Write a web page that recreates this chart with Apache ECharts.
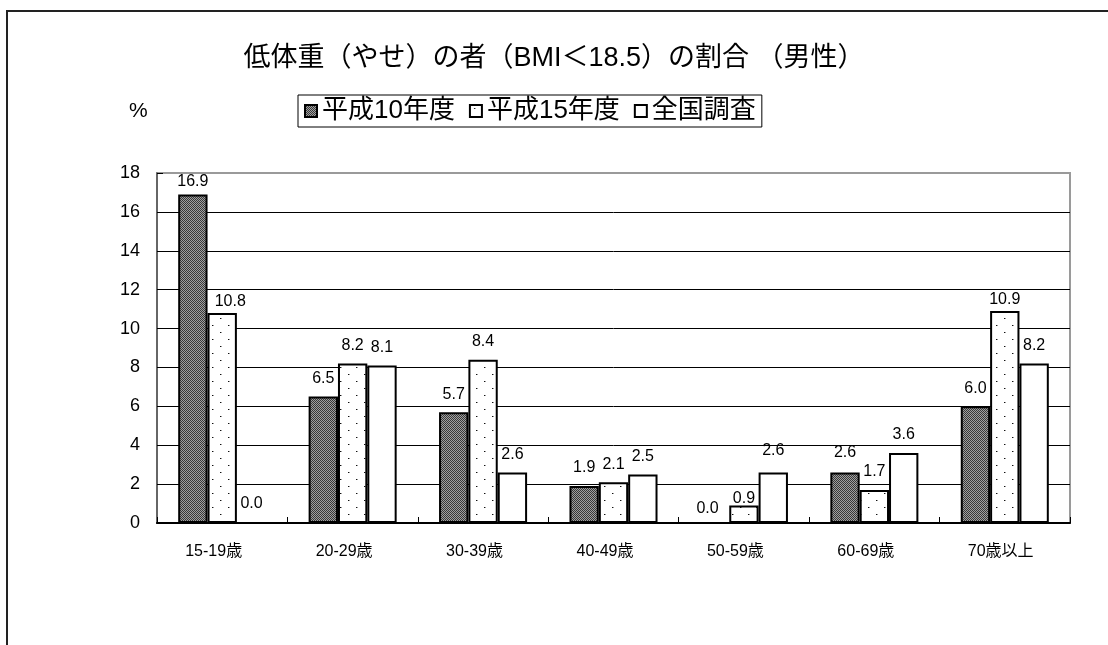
<!DOCTYPE html>
<html>
<head>
<meta charset="utf-8">
<script src="https://cdn.jsdelivr.net/npm/echarts@6/dist/echarts.min.js"></script>
<style>
  html, body { margin: 0; padding: 0; background: #fff; }
  #chart { width: 1108px; height: 645px; }
</style>
</head>
<body>
<div id="chart"></div>
<script>
// ---- data ----
const titleText = '低体重（やせ）の者（BMI＜18.5）の割合 （男性）';
const unitLabel = '%';
const categories = ['15-19歳', '20-29歳', '30-39歳', '40-49歳', '50-59歳', '60-69歳', '70歳以上'];
const seriesNames = ['平成10年度', '平成15年度', '全国調査'];
const h10 = [16.9, 6.5, 5.7, 1.9, 0.0, 2.6, 6.0];
const h15 = [10.8, 8.2, 8.4, 2.1, 0.9, 1.7, 10.9];
const national = [0.0, 8.1, 2.6, 2.5, 2.6, 3.6, 8.2];
const yTicks = { min: 0, max: 18, interval: 2 };

// ---- label nudges (layout only, [dx, dy] in px) ----
const labelNudge = [
  { 0: [0, 5], 4: [-7, 5], 5: [0, -2] },
  { 0: [8, 7], 4: [0, 11], 6: [0, 7] },
  { 4: [0, -4] }
];

// ---- patterns ----
function darkPattern() {
  const c = document.createElement('canvas');
  c.width = 2; c.height = 2;
  const g = c.getContext('2d');
  g.fillStyle = '#a0a0a0'; g.fillRect(0, 0, 2, 2);
  g.fillStyle = '#383838'; g.fillRect(0, 0, 1, 1); g.fillRect(1, 1, 1, 1);
  return { image: c, repeat: 'repeat' };
}
function dotPattern() {
  const c = document.createElement('canvas');
  c.width = 16; c.height = 14;
  const g = c.getContext('2d');
  g.fillStyle = '#ffffff'; g.fillRect(0, 0, 16, 14);
  g.fillStyle = '#111111';
  g.fillRect(4, 3, 1, 1);
  g.fillRect(12, 10, 1, 1);
  g.fillStyle = '#999999';
  g.fillRect(5, 3, 1, 1);
  g.fillRect(13, 10, 1, 1);
  return { image: c, repeat: 'repeat' };
}
const fills = [darkPattern(), dotPattern(), '#ffffff'];
const values = [h10, h15, national];

const FONT = "'Liberation Sans', 'Noto Sans CJK JP', sans-serif";

function buildData(arr, si) {
  const nudges = labelNudge[si];
  return arr.map((v, i) => {
    const d = { value: v };
    if (nudges[i]) d.label = { offset: nudges[i] };
    return d;
  });
}

const chart = echarts.init(document.getElementById('chart'), null, { renderer: 'canvas' });
chart.setOption({
  backgroundColor: '#fff',
  animation: false,
  title: {
    text: titleText,
    left: 'center',
    top: 40,
    textStyle: { fontFamily: FONT, fontSize: 27, fontWeight: 'normal', color: '#000' }
  },
  legend: {
    data: seriesNames,
    left: 298,
    top: 95,
    orient: 'horizontal',
    padding: [3, 6, 3, 6],
    borderColor: '#000',
    borderWidth: 1,
    itemWidth: 12,
    itemHeight: 12,
    itemGap: 14,
    icon: 'rect',
    textStyle: { fontFamily: FONT, fontSize: 26, color: '#000' }
  },
  graphic: [
    {
      type: 'rect', z: -10, silent: true,
      shape: { x: 7, y: 11, width: 1300, height: 1000 },
      style: { fill: 'none', stroke: '#222', lineWidth: 2 }
    },
    {
      type: 'text', left: 129, top: 101,
      style: { text: unitLabel, fontFamily: FONT, fontSize: 21, fill: '#000' }
    }
  ],
  grid: {
    left: 157, right: 38, top: 173, bottom: 122,
    show: true, borderColor: '#9a9a9a', borderWidth: 2, backgroundColor: 'transparent'
  },
  xAxis: {
    type: 'category',
    data: categories,
    axisLine: { lineStyle: { color: '#000', width: 2 } },
    axisTick: { show: true, inside: true, length: 6, lineStyle: { color: '#000' } },
    axisLabel: {
      interval: 0,
      margin: 21,
      color: '#000',
      fontFamily: FONT,
      fontSize: 16,
      formatter: v => '{a|' + v + '}',
      rich: { a: { width: 74, align: 'left', fontFamily: FONT, fontSize: 16, color: '#000' } }
    }
  },
  yAxis: {
    type: 'value',
    min: yTicks.min, max: yTicks.max, interval: yTicks.interval,
    axisLine: { show: true, lineStyle: { color: '#555', width: 1.5 } },
    axisTick: { show: true, inside: true, length: 6, lineStyle: { color: '#000' } },
    axisLabel: { margin: 17, color: '#000', fontFamily: FONT, fontSize: 18 },
    splitLine: { show: true, showMaxLine: false, lineStyle: { color: '#000', width: 1 } }
  },
  series: seriesNames.map((name, si) => ({
    name: name,
    type: 'bar',
    barGap: '0%',
    barCategoryGap: '32.5%',
    data: buildData(values[si], si),
    itemStyle: { color: fills[si], borderColor: '#000', borderWidth: 2 },
    label: {
      show: true,
      position: 'top',
      distance: 10,
      color: '#000',
      fontFamily: FONT,
      fontSize: 16,
      formatter: p => Number(p.value).toFixed(1)
    }
  }))
});
</script>
</body>
</html>
